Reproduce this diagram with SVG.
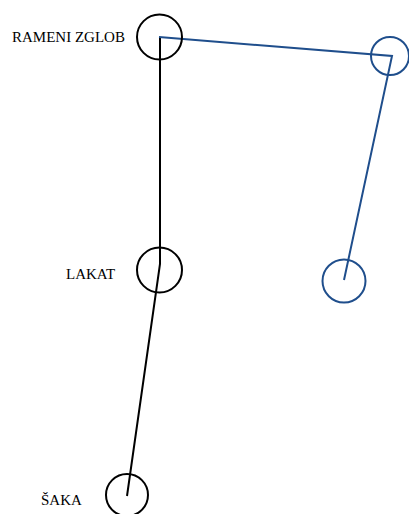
<svg xmlns="http://www.w3.org/2000/svg" width="409" height="514" viewBox="0 0 409 514">
<style>
.lbl{font-family:"Liberation Serif","Times New Roman",serif;font-size:15px;fill:#000}
.bk{fill:none;stroke:#000;stroke-width:2}
.bl{fill:none;stroke:#1F4E8C;stroke-width:2}
</style>
<rect width="409" height="514" fill="#fff"/>
<g id="connectors">
<polyline class="bk" points="160,37 160,264 127,496"/>
<polyline class="bl" points="159,37 392,56 344,280"/>
</g>
<g id="shoulder"><circle class="bk" cx="159.5" cy="37" r="22.5"/><text class="lbl" x="12" y="42">RAMENI ZGLOB</text></g>
<g id="elbow"><circle class="bk" cx="159.5" cy="270" r="22.5"/><text class="lbl" x="66" y="279">LAKAT</text></g>
<g id="hand"><circle class="bk" cx="127" cy="495" r="21"/><text class="lbl" x="41" y="505">ŠAKA</text></g>
<g id="shoulder2"><circle class="bl" cx="390" cy="56" r="19"/></g>
<g id="elbow2"><circle class="bl" cx="344" cy="281" r="21.5"/></g>
</svg>
